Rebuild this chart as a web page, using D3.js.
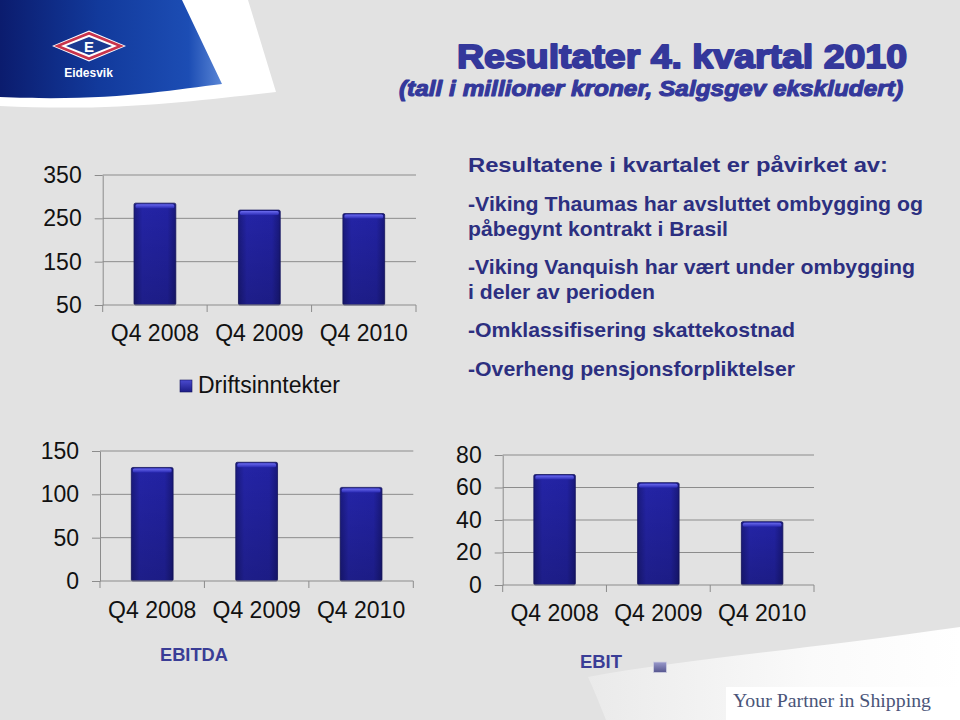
<!DOCTYPE html>
<html>
<head>
<meta charset="utf-8">
<script src="https://cdn.jsdelivr.net/npm/d3@7"></script>
<style>
  html, body { margin: 0; padding: 0; background: #e2e2e2; }
  svg { display: block; }
</style>
</head>
<body>
<svg id="chart" width="960" height="720"></svg>
<script>
// ---------------- DATA ----------------
const categories = ["Q4 2008", "Q4 2009", "Q4 2010"];
const driftsinntekter = [285, 269, 261];
const ebitda = [131, 137, 108];
const ebit = [68, 63, 39];
const driftTicks = [50, 150, 250, 350];
const ebitdaTicks = [0, 50, 100, 150];
const ebitTicks = [0, 20, 40, 60, 80];

const titleText = "Resultater 4. kvartal 2010";
const subtitleText = "(tall i millioner kroner, Salgsgev ekskludert)";
const notes = [
  "Resultatene i kvartalet er påvirket av:",
  "-Viking Thaumas har avsluttet ombygging og",
  "påbegynt kontrakt i Brasil",
  "-Viking Vanquish har vært under ombygging",
  "i deler av perioden",
  "-Omklassifisering skattekostnad",
  "-Overheng pensjonsforpliktelser"
];

const SANS = "'Liberation Sans', Arial, sans-serif";
const SERIF = "'Liberation Serif', 'DejaVu Serif', serif";

// ---------------- SETUP ----------------
const svg = d3.select("#chart").style("font-family", SANS);
const defs = svg.append("defs");

svg.append("rect").attr("width", 960).attr("height", 720).attr("fill", "#e2e2e2");

// gradients
const bannerGrad = defs.append("linearGradient").attr("id", "banner").attr("x1", 0).attr("x2", 1).attr("y1", 0).attr("y2", 0);
bannerGrad.append("stop").attr("offset", "0%").attr("stop-color", "#0b1c6e");
bannerGrad.append("stop").attr("offset", "45%").attr("stop-color", "#123a9c");
bannerGrad.append("stop").attr("offset", "85%").attr("stop-color", "#1c4db4");
bannerGrad.append("stop").attr("offset", "100%").attr("stop-color", "#5a86d6");

const swooshGrad = defs.append("linearGradient").attr("id", "swoosh").attr("x1", 0).attr("x2", 1).attr("y1", 0).attr("y2", 0);
swooshGrad.append("stop").attr("offset", "0%").attr("stop-color", "#eaeaea");
swooshGrad.append("stop").attr("offset", "60%").attr("stop-color", "#fafafa");
swooshGrad.append("stop").attr("offset", "100%").attr("stop-color", "#ffffff");

const barGrad = defs.append("linearGradient").attr("id", "bar").attr("x1", 0).attr("x2", 1).attr("y1", 0).attr("y2", 0);
barGrad.append("stop").attr("offset", "0%").attr("stop-color", "#1a1a7e");
barGrad.append("stop").attr("offset", "20%").attr("stop-color", "#2424a6");
barGrad.append("stop").attr("offset", "80%").attr("stop-color", "#2222a2");
barGrad.append("stop").attr("offset", "100%").attr("stop-color", "#18187a");

const barShade = defs.append("linearGradient").attr("id", "barShade").attr("x1", 0).attr("x2", 0).attr("y1", 0).attr("y2", 1);
barShade.append("stop").attr("offset", "0%").attr("stop-color", "#000").attr("stop-opacity", 0);
barShade.append("stop").attr("offset", "100%").attr("stop-color", "#000").attr("stop-opacity", 0.18);

const topGrad = defs.append("linearGradient").attr("id", "barTop").attr("x1", 0).attr("x2", 0).attr("y1", 0).attr("y2", 1);
topGrad.append("stop").attr("offset", "0%").attr("stop-color", "#6a6aee");
topGrad.append("stop").attr("offset", "100%").attr("stop-color", "#2a2ab4");

const legGrad = defs.append("linearGradient").attr("id", "leg").attr("x1", 0).attr("x2", 0).attr("y1", 0).attr("y2", 1);
legGrad.append("stop").attr("offset", "0%").attr("stop-color", "#4a4ad0");
legGrad.append("stop").attr("offset", "100%").attr("stop-color", "#1c1c86");

const legGrad2 = defs.append("linearGradient").attr("id", "leg2").attr("x1", 0).attr("x2", 0).attr("y1", 0).attr("y2", 1);
legGrad2.append("stop").attr("offset", "0%").attr("stop-color", "#9a9acc");
legGrad2.append("stop").attr("offset", "100%").attr("stop-color", "#55558e");

// ---------------- DECORATION ----------------
svg.append("path")
  .attr("d", "M0,0 L248,0 L276,92 C200,100 120,112 0,106 Z")
  .attr("fill", "#ffffff");
svg.append("path")
  .attr("d", "M0,0 L182,0 L222,84 C170,90 110,102 0,97 Z")
  .attr("fill", "url(#banner)");

// logo diamond
const lc = [89, 46];
function diamond(w, h) {
  return `M${lc[0] - w},${lc[1]} L${lc[0]},${lc[1] - h} L${lc[0] + w},${lc[1]} L${lc[0]},${lc[1] + h} Z`;
}
svg.append("path").attr("d", diamond(37, 15.5)).attr("fill", "#ffffff");
svg.append("path").attr("d", diamond(35, 14.3)).attr("fill", "#c8344c");
svg.append("path").attr("d", diamond(28, 11.3)).attr("fill", "#ffffff");
svg.append("path").attr("d", diamond(23, 9)).attr("fill", "#1a3a92");
svg.append("text").attr("x", lc[0]).attr("y", lc[1] + 5.5).attr("text-anchor", "middle")
  .attr("font-size", 15).attr("font-weight", "bold").attr("fill", "#ffffff").text("E");
svg.append("text").attr("x", 88.5).attr("y", 77).attr("text-anchor", "middle")
  .attr("font-size", 12).attr("font-weight", "bold").attr("fill", "#ffffff").text("Eidesvik");

// bottom-right swoosh
svg.append("path")
  .attr("d", "M588,677 C680,660 800,650 960,627 L960,720 L606,720 C600,705 594,690 588,677 Z")
  .attr("fill", "url(#swoosh)");
svg.append("rect").attr("x", 726).attr("y", 687).attr("width", 234).attr("height", 33).attr("fill", "#ffffff");
svg.append("text").attr("x", 733).attr("y", 707)
  .style("font-family", SERIF)
  .attr("font-size", 18).attr("fill", "#4a5579")
  .attr("textLength", 198).attr("lengthAdjust", "spacingAndGlyphs")
  .text("Your Partner in Shipping");

// ---------------- TITLES ----------------
svg.append("text").attr("x", 457).attr("y", 68)
  .attr("font-size", 34).attr("font-weight", 900).attr("fill", "#34389b")
  .attr("stroke", "#34389b").attr("stroke-width", 1.8).attr("stroke-linejoin", "round")
  .attr("textLength", 450).attr("lengthAdjust", "spacingAndGlyphs")
  .text(titleText);
svg.append("text").attr("x", 399).attr("y", 95.5)
  .attr("font-size", 22).attr("font-weight", 900).attr("font-style", "italic").attr("fill", "#34389b")
  .attr("stroke", "#34389b").attr("stroke-width", 1.1).attr("stroke-linejoin", "round")
  .attr("textLength", 504).attr("lengthAdjust", "spacingAndGlyphs")
  .text(subtitleText);

// notes block
const noteY = [171.7, 210.7, 235.7, 274, 299.3, 337.3, 375.7];
const noteW = [420, 455, 260, 447, 187, 327, 327];
svg.append("g").selectAll("text").data(notes).join("text")
  .attr("x", 468).attr("y", (d, i) => noteY[i])
  .attr("font-size", 21).attr("font-weight", "bold").attr("fill", "#2c2f80")
  .attr("textLength", (d, i) => noteW[i]).attr("lengthAdjust", "spacingAndGlyphs")
  .text(d => d);

// ---------------- CHART FUNCTION ----------------
function barChart(opts) {
  const { values, ticks, domain, x0, x1, y0, y1, labelPad } = opts;
  const g = svg.append("g");
  const x = d3.scaleBand().domain(categories).range([x0, x1]).padding(0);
  const y = d3.scaleLinear().domain(domain).range([y0, y1]);

  g.append("g").selectAll("line").data(ticks.filter(t => t !== domain[0])).join("line")
    .attr("x1", x0).attr("x2", x1)
    .attr("y1", d => y(d)).attr("y2", d => y(d))
    .attr("stroke", "#8c8c8c").attr("stroke-width", 1);

  const ya = g.append("g").attr("transform", `translate(${x0},0)`)
    .call(d3.axisLeft(y).tickValues(ticks).tickSize(8).tickPadding(13).tickSizeOuter(0));
  ya.attr("font-family", SANS);
  ya.select(".domain").attr("stroke", "#8c8c8c");
  ya.selectAll(".tick line").attr("stroke", "#8c8c8c");
  ya.selectAll(".tick text").attr("font-size", 23).attr("fill", "#111");

  const bw = x.bandwidth() * 0.4;
  const bars = g.append("g").selectAll("g").data(values).join("g");
  const bx = (d, i) => x(categories[i]) + (x.bandwidth() - bw) / 2;
  bars.append("rect")
    .attr("x", bx).attr("width", bw)
    .attr("y", d => y(d)).attr("height", d => y0 - y(d))
    .attr("rx", 1.5)
    .attr("fill", "url(#bar)").attr("stroke", "#14145e").attr("stroke-width", 0.8);
  bars.append("rect")
    .attr("x", bx).attr("width", bw)
    .attr("y", d => y(d)).attr("height", d => y0 - y(d))
    .attr("fill", "url(#barShade)");
  bars.append("rect")
    .attr("x", (d, i) => bx(d, i) + 1.5).attr("width", bw - 3)
    .attr("y", d => y(d) + 1).attr("height", 4)
    .attr("rx", 1.5)
    .attr("fill", "url(#barTop)");

  g.append("line").attr("x1", x0).attr("x2", x1).attr("y1", y0).attr("y2", y0)
    .attr("stroke", "#8c8c8c");
  const bounds = [x0].concat(categories.map(c => x(c) + x.bandwidth()));
  g.append("g").selectAll("line").data(bounds).join("line")
    .attr("x1", d => d).attr("x2", d => d).attr("y1", y0).attr("y2", y0 + 7)
    .attr("stroke", "#8c8c8c");
  const xa = g.append("g").attr("transform", `translate(0,${y0})`)
    .call(d3.axisBottom(x).tickSize(0).tickPadding(labelPad));
  xa.attr("font-family", SANS);
  xa.select(".domain").remove();
  xa.selectAll(".tick text").attr("font-size", 23).attr("fill", "#111");
  return g;
}

barChart({ values: driftsinntekter, ticks: driftTicks, domain: [50, 350],
  x0: 102.7, x1: 416, y0: 305, y1: 175, labelPad: 20 });
barChart({ values: ebitda, ticks: ebitdaTicks, domain: [0, 150],
  x0: 100, x1: 413.3, y0: 581, y1: 451, labelPad: 21 });
barChart({ values: ebit, ticks: ebitTicks, domain: [0, 80],
  x0: 502.7, x1: 814, y0: 585, y1: 455, labelPad: 20 });

// legends
svg.append("rect").attr("x", 180).attr("y", 380).attr("width", 12).attr("height", 12)
  .attr("fill", "url(#leg)").attr("stroke", "#15155e").attr("stroke-width", 0.6);
svg.append("text").attr("x", 198).attr("y", 393.3).attr("font-size", 23).attr("fill", "#111")
  .text("Driftsinntekter");

svg.append("text").attr("x", 160).attr("y", 660.7).attr("font-size", 18.5).attr("font-weight", "bold")
  .attr("fill", "#3a3d96").attr("textLength", 68).attr("lengthAdjust", "spacingAndGlyphs").text("EBITDA");
svg.append("text").attr("x", 580).attr("y", 668.3).attr("font-size", 18.5).attr("font-weight", "bold")
  .attr("fill", "#3a3d96").attr("textLength", 42).attr("lengthAdjust", "spacingAndGlyphs").text("EBIT");
svg.append("rect").attr("x", 653.5).attr("y", 662).attr("width", 13).attr("height", 10.5)
  .attr("fill", "url(#leg2)").attr("stroke", "#cfcfe0").attr("stroke-width", 0.8);
</script>
</body>
</html>
